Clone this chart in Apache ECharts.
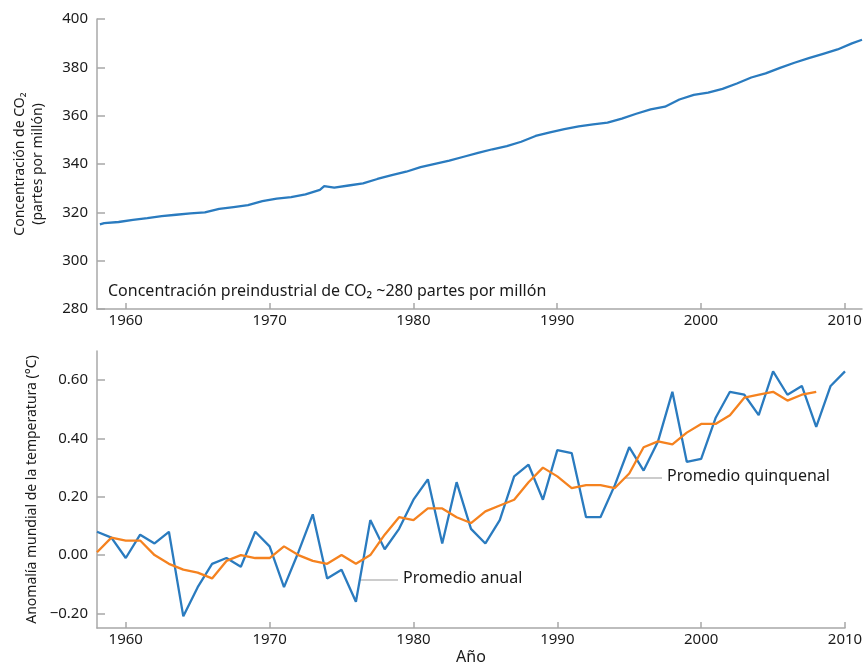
<!DOCTYPE html>
<html>
<head>
<meta charset="utf-8">
<script src="https://cdn.jsdelivr.net/npm/echarts@6/dist/echarts.min.js"></script>
<style>
  html, body { margin: 0; padding: 0; background: #fff; }
  #main { width: 866px; height: 666px; }
</style>
</head>
<body>
<div id="main"></div>
<script>
// CO2 (Mauna Loa, media anual) y anomalía de temperatura
const co2Time = [1958.2, 1958.5, 1959.5, 1960.5, 1961.5, 1962.5, 1963.5, 1964.5, 1965.5, 1966.5, 1967.5,
  1968.5, 1969.5, 1970.5, 1971.5, 1972.5, 1973.5, 1973.8, 1974.5, 1975.5, 1976.5, 1977.5,
  1978.5, 1979.5, 1980.5, 1981.5, 1982.5, 1983.5, 1984.5, 1985.5, 1986.5, 1987.5,
  1988.5, 1989.5, 1990.5, 1991.5, 1992.5, 1993.5, 1994.5, 1995.5, 1996.5, 1997.5,
  1998.5, 1999.5, 2000.5, 2001.5, 2002.5, 2003.5, 2004.5, 2005.5, 2006.5, 2007.5,
  2008.5, 2009.5, 2010.5, 2011.2]
const co2Ppm = [315.0, 315.5, 316.0, 316.9, 317.6, 318.4, 319.0, 319.6, 320.0, 321.4, 322.2,
  323.0, 324.6, 325.7, 326.3, 327.4, 329.3, 330.8, 330.2, 331.1, 332.0, 333.8,
  335.4, 336.8, 338.7, 340.1, 341.4, 343.0, 344.6, 346.1, 347.4, 349.2,
  351.6, 353.1, 354.4, 355.6, 356.4, 357.1, 358.8, 360.8, 362.6, 363.7,
  366.7, 368.6, 369.5, 371.1, 373.3, 375.8, 377.5, 379.8, 381.9, 383.8,
  385.6, 387.4, 389.9, 391.4]

const tempYears = []
for (let y = 1958; y <= 2010; y++) tempYears.push(y)
const tempAnual = [0.08, 0.06, -0.01, 0.07, 0.04, 0.08, -0.21, -0.11, -0.03, -0.01,
  -0.04, 0.08, 0.03, -0.11, 0.01, 0.14, -0.08, -0.05, -0.16, 0.12,
  0.02, 0.09, 0.19, 0.26, 0.04, 0.25, 0.09, 0.04, 0.12, 0.27,
  0.31, 0.19, 0.36, 0.35, 0.13, 0.13, 0.24, 0.37, 0.29, 0.39,
  0.56, 0.32, 0.33, 0.47, 0.56, 0.55, 0.48, 0.63, 0.55, 0.58,
  0.44, 0.58, 0.63]
const tempQuinquenal = [0.01, 0.06, 0.05, 0.05, 0.00, -0.03, -0.05, -0.06, -0.08, -0.02,
  0.00, -0.01, -0.01, 0.03, 0.00, -0.02, -0.03, 0.00, -0.03, 0.00,
  0.07, 0.13, 0.12, 0.16, 0.16, 0.13, 0.11, 0.15, 0.17, 0.19,
  0.25, 0.30, 0.27, 0.23, 0.24, 0.24, 0.23, 0.28, 0.37, 0.39,
  0.38, 0.42, 0.45, 0.45, 0.48, 0.54, 0.55, 0.56, 0.53, 0.55,
  0.56]

const decadeTicks = [1960, 1970, 1980, 1990, 2000, 2010]
const tempTicks = [-0.2, 0, 0.2, 0.4, 0.6]

const FONT = 'Noto Sans'
const axisGray = '#a8a8a8'
const textColor = '#1a1a1a'
const blue = '#2a7bbf'
const orange = '#f5821f'

function xAxisBase (max, gridIndex) {
  return {
    type: 'value',
    gridIndex: gridIndex,
    min: 1958,
    max: max,
    splitLine: { show: false },
    axisLine: { onZero: false, lineStyle: { color: axisGray, width: 1.5 } },
    axisTick: { inside: true, length: 6, customValues: decadeTicks, lineStyle: { color: axisGray, width: 1.5 } },
    axisLabel: {
      customValues: decadeTicks,
      margin: 4,
      color: textColor,
      fontFamily: FONT,
      fontSize: 15,
      formatter: v => String(v)
    }
  }
}

let myChart = echarts.init(document.getElementById('main'))
let options = {
  animation: false,
  textStyle: { fontFamily: FONT },
  grid: [
    { left: 97, right: 4, top: 19, height: 290 },
    { left: 97, right: 21, top: 351, height: 277 }
  ],
  xAxis: [
    xAxisBase(2011.2, 0),
    Object.assign(xAxisBase(2010, 1), {
      name: 'Año',
      nameLocation: 'middle',
      nameGap: 21,
      nameTextStyle: { color: textColor, fontFamily: FONT, fontSize: 16 }
    })
  ],
  yAxis: [
    {
      type: 'value',
      gridIndex: 0,
      min: 280,
      max: 400,
      interval: 20,
      name: 'Concentración de CO₂\n(partes por millón)',
      nameLocation: 'middle',
      nameGap: 50,
      nameTextStyle: { color: textColor, fontFamily: FONT, fontSize: 14, lineHeight: 18 },
      splitLine: { show: false },
      axisLine: { show: true, lineStyle: { color: axisGray, width: 1.5 } },
      axisTick: { show: true, inside: true, length: 8, lineStyle: { color: axisGray, width: 1.5 } },
      axisLabel: { margin: 9, color: textColor, fontFamily: FONT, fontSize: 15 }
    },
    {
      type: 'value',
      gridIndex: 1,
      min: -0.25,
      max: 0.7,
      name: 'Anomalía mundial de la temperatura (°C)',
      nameLocation: 'middle',
      nameGap: 49,
      nameTextStyle: { color: textColor, fontFamily: FONT, fontSize: 14 },
      splitLine: { show: false },
      axisLine: { show: true, lineStyle: { color: axisGray, width: 1.5 } },
      axisTick: { show: true, inside: true, length: 8, customValues: tempTicks, lineStyle: { color: axisGray, width: 1.5 } },
      axisLabel: {
        customValues: tempTicks,
        margin: 9,
        color: textColor,
        fontFamily: FONT,
        fontSize: 15,
        formatter: v => (v < 0 ? '\u2212' + Math.abs(v).toFixed(2) : v.toFixed(2))
      }
    }
  ],
  series: [
    {
      name: 'CO2',
      type: 'line',
      xAxisIndex: 0,
      yAxisIndex: 0,
      showSymbol: false,
      data: co2Time.map((t, i) => [t, co2Ppm[i]]),
      lineStyle: { color: blue, width: 2.3 }
    },
    {
      name: 'Promedio anual',
      type: 'line',
      xAxisIndex: 1,
      yAxisIndex: 1,
      showSymbol: false,
      data: tempYears.map((y, i) => [y, tempAnual[i]]),
      lineStyle: { color: blue, width: 2.3 }
    },
    {
      name: 'Promedio quinquenal',
      type: 'line',
      xAxisIndex: 1,
      yAxisIndex: 1,
      showSymbol: false,
      data: tempQuinquenal.map((v, i) => [tempYears[i], v]),
      lineStyle: { color: orange, width: 2.3 }
    }
  ],
  graphic: [
    {
      type: 'text',
      left: 108,
      top: 283,
      style: {
        text: 'Concentración preindustrial de CO₂ ~280 partes por millón',
        fill: textColor,
        font: '16px "Noto Sans"'
      }
    },
    {
      type: 'line',
      shape: { x1: 625, y1: 478, x2: 662, y2: 478 },
      style: { stroke: '#999', lineWidth: 1 }
    },
    {
      type: 'text',
      left: 667,
      top: 468,
      style: { text: 'Promedio quinquenal', fill: textColor, font: '16px "Noto Sans"' }
    },
    {
      type: 'line',
      shape: { x1: 360, y1: 580, x2: 398, y2: 580 },
      style: { stroke: '#999', lineWidth: 1 }
    },
    {
      type: 'text',
      left: 403,
      top: 570,
      style: { text: 'Promedio anual', fill: textColor, font: '16px "Noto Sans"' }
    }
  ]
}
myChart.setOption(options)
</script>
</body>
</html>
